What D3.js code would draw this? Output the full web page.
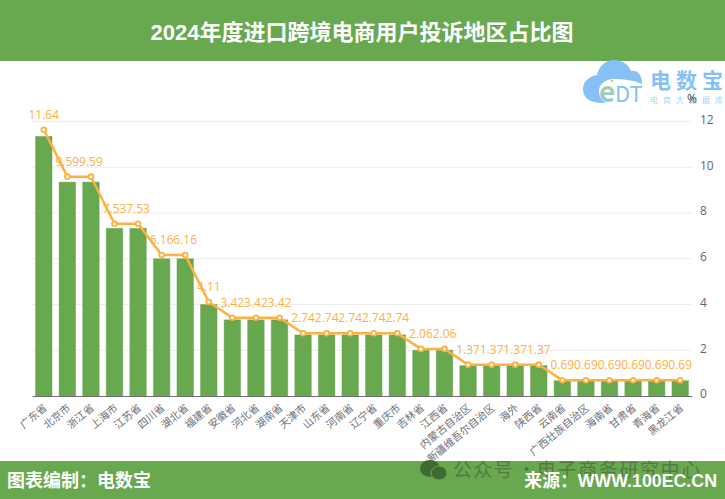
<!DOCTYPE html>
<html>
<head>
<meta charset="utf-8">
<style>
body{margin:0;background:#fff;overflow:hidden;}
text{font-family:"Noto Sans CJK SC","Noto Sans",sans-serif;}
.num{font-family:"Open Sans","Noto Sans",sans-serif;}
.head{font-family:"Liberation Sans","Noto Sans CJK SC",sans-serif;font-weight:700;fill:#fff;}
</style>
<script src="https://d3js.org/d3.v7.min.js"></script>
</head>
<body>
<script>
var w = 725, h = 499;
var green = "#68a84f", orange = "#ffb03f", logoBlue = "#85c1f7";

var categories = ["广东省","北京市","浙江省","上海市","江苏省","四川省","湖北省","福建省","安徽省","河北省","湖南省","天津市","山东省","河南省","辽宁省","重庆市","吉林省","江西省","内蒙古自治区","新疆维吾尔自治区","海外","陕西省","云南省","广西壮族自治区","海南省","甘肃省","青海省","黑龙江省"];
// bars sit a little under the line in the picture
var barValues = [11.35,9.35,9.35,7.33,7.33,6,6,4,3.33,3.33,3.33,2.67,2.67,2.67,2.67,2.67,2,2,1.33,1.33,1.33,1.33,0.67,0.67,0.67,0.67,0.67,0.67];
var lineValues = [11.64,9.59,9.59,7.53,7.53,6.16,6.16,4.11,3.42,3.42,3.42,2.74,2.74,2.74,2.74,2.74,2.06,2.06,1.37,1.37,1.37,1.37,0.69,0.69,0.69,0.69,0.69,0.69];
var yTicks = [0,2,4,6,8,10,12];

var svg = d3.select("body").append("svg").attr("width", w).attr("height", h);

var xScale = d3.scaleBand().domain(categories).range([32, 692]).paddingInner(0.3).paddingOuter(0.15);
var yScale = d3.scaleLinear().domain([0, 12]).range([396, 121.5]);

// header and footer bands
svg.append("rect").attr("width", w).attr("height", 61).attr("fill", green);
svg.append("rect").attr("y", 461).attr("width", w).attr("height", 38).attr("fill", green);
svg.append("text").attr("class", "head").attr("x", 362).attr("y", 39.5).attr("text-anchor", "middle")
   .attr("font-size", 22).text("2024年度进口跨境电商用户投诉地区占比图");

// logo
var defs = svg.append("defs");
var grad = defs.append("linearGradient").attr("id", "eGrad").attr("x1", 0).attr("x2", 0).attr("y1", 0).attr("y2", 1);
grad.append("stop").attr("offset", "0%").attr("stop-color", "#c3d86a");
grad.append("stop").attr("offset", "100%").attr("stop-color", "#85c1f7");

var logo = svg.append("g");
logo.append("path").attr("fill", logoBlue)
    .attr("d", "M603 103C590 103 583 98 583 89C583 81 590 76 597 75C599 66 606 60 614 60C622 60 628 64 631 71C638 70 642 75 642 84C634 80 622 79 612 79C604 80 599 85 599 91C599 96 601 100 606 103Z");
logo.append("text").attr("x", 599).attr("y", 102).attr("font-size", 28).attr("font-weight", 700).attr("fill", "url(#eGrad)").attr("font-family", "Liberation Serif").text("e");
logo.append("text").attr("x", 615).attr("y", 102).attr("font-size", 22).attr("fill", logoBlue).attr("font-family", "Liberation Serif").text("DT");
logo.append("circle").attr("cx", 612).attr("cy", 81).attr("r", 1.2).attr("fill", "#c3d86a");
logo.append("text").attr("x", "650 676 702").attr("y", 88).attr("font-size", 21).attr("font-weight", 700).attr("fill", logoBlue).text("电数宝");
logo.append("text").attr("x", "650 663 676 689 702 715").attr("y", 102.5).attr("font-size", 8).attr("fill", "#a9d3f8").text("电商大数据库");

// grid
svg.append("g").selectAll("line").data(yTicks.slice(1)).join("line")
   .attr("x1", 32).attr("x2", 692)
   .attr("y1", function(d){ return yScale(d); })
   .attr("y2", function(d){ return yScale(d); })
   .attr("stroke", "#eeeeee");

// bars
svg.append("g").selectAll("rect").data(barValues).join("rect")
   .attr("x", function(d, i){ return xScale(categories[i]); })
   .attr("y", function(d){ return yScale(d); })
   .attr("width", xScale.bandwidth())
   .attr("height", function(d){ return yScale(0) - yScale(d); })
   .attr("fill", green)
   .attr("stroke", "#68a84f")
   .attr("stroke-opacity", 0.45);

// right axis
var yAxis = d3.axisRight(yScale).tickValues(yTicks).tickSize(0).tickPadding(8);
var yg = svg.append("g").attr("transform", "translate(692,-2)").call(yAxis);
yg.select(".domain").remove();
yg.selectAll("text").attr("class", "num").attr("font-size", 12).attr("fill", "#666");

svg.append("text").attr("class", "num").attr("x", 692).attr("y", 103).attr("text-anchor", "middle")
   .attr("font-size", 12).attr("fill", "#444").text("%");

// bottom axis
var xAxis = d3.axisBottom(xScale).tickSize(0).tickPadding(0);
var xg = svg.append("g").attr("transform", "translate(0,396)").call(xAxis);
xg.select(".domain").attr("stroke", "#6e7079").attr("stroke-width", 1);
xg.selectAll("text")
  .attr("font-size", 10.5).attr("fill", "#6e7079")
  .attr("text-anchor", "end").attr("dy", 0)
  .attr("transform", "translate(4,13) rotate(-40)");

// line and its labels
var line = d3.line()
    .x(function(d, i){ return xScale(categories[i]) + xScale.bandwidth() / 2; })
    .y(function(d){ return yScale(d); });

svg.append("path").datum(lineValues).attr("d", line)
   .attr("fill", "none").attr("stroke", orange).attr("stroke-width", 2.5);

svg.append("g").selectAll("circle").data(lineValues).join("circle")
   .attr("cx", function(d, i){ return xScale(categories[i]) + xScale.bandwidth() / 2; })
   .attr("cy", function(d){ return yScale(d); })
   .attr("r", 2.4)
   .attr("fill", "#fff").attr("stroke", orange).attr("stroke-width", 1.8);

svg.append("g").selectAll("text").data(lineValues).join("text")
   .attr("class", "num")
   .attr("x", function(d, i){ return xScale(categories[i]) + xScale.bandwidth() / 2; })
   .attr("y", function(d){ return yScale(d) - 11; })
   .attr("text-anchor", "middle")
   .attr("font-size", 12).attr("fill", orange)
   .text(function(d){ return d.toFixed(2); });

// wechat watermark
var wm = svg.append("g");
wm.append("ellipse").attr("cx", 430).attr("cy", 468.5).attr("rx", 10).attr("ry", 8.5).attr("fill", "#3f6a31");
wm.append("ellipse").attr("cx", 439).attr("cy", 473).attr("rx", 8).attr("ry", 7).attr("fill", "#3f6a31").attr("stroke", green);
var wmText = wm.append("text").attr("y", 476.5).attr("font-size", 19).attr("fill", "#222").attr("opacity", 0.32);
wmText.append("tspan").attr("x", 453).attr("letter-spacing", 1.4).text("公众号");
wmText.append("tspan").attr("x", 517).text("·");
wmText.append("tspan").attr("x", 537).attr("letter-spacing", 1.6).text("电子商务研究中心");

// footer text
svg.append("text").attr("class", "head").attr("x", 7).attr("y", 487).attr("font-size", 18).text("图表编制：电数宝");
svg.append("text").attr("class", "head").attr("x", 717).attr("y", 487).attr("text-anchor", "end").attr("font-size", 17.8).text("来源：WWW.100EC.CN");
</script>
</body>
</html>
